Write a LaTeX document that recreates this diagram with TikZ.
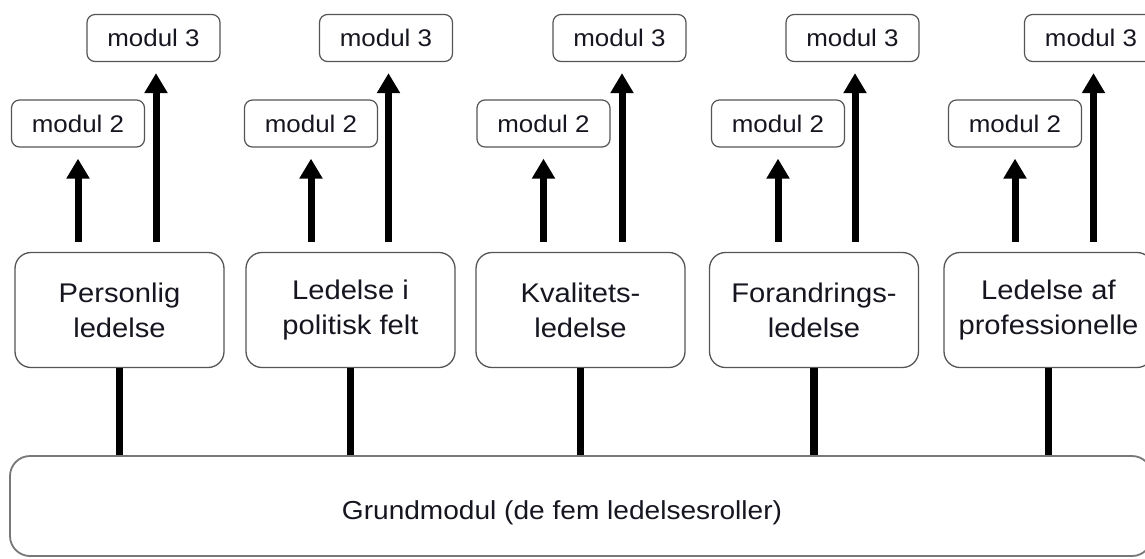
\documentclass[tikz,border=0pt]{standalone}
\usepackage{fontspec}
\setmainfont{Liberation Sans}[FakeStretch=1.08]
\usetikzlibrary{arrows.meta}
\definecolor{ink}{RGB}{22,22,32}
\definecolor{edge}{RGB}{85,85,85}
\definecolor{baseedge}{RGB}{120,120,120}
\begin{document}
\begin{tikzpicture}[x=1pt,y=-1pt,
  role/.style={draw=edge, line width=1.3pt, rounded corners=16pt, fill=white,
    minimum width=209pt, minimum height=115pt, inner sep=0pt, align=center,
    font=\fontsize{27}{35}\selectfont, text=ink},
  modbox/.style={draw=edge, line width=1.2pt, rounded corners=8pt, fill=white,
    minimum width=133pt, minimum height=47pt, inner sep=0pt,
    font=\fontsize{24}{28}\selectfont, text=ink},
  basebox/.style={draw=baseedge, line width=1.8pt, rounded corners=20pt,
    minimum width=1142pt, minimum height=100pt, inner sep=0pt},
  uparrow/.style={line width=7pt, -{Triangle[width=22pt,length=20pt]}},
  stem/.style={line width=7.5pt},
]
\useasboundingbox (0,0) rectangle (1145,558);
\fill[white] (0,0) rectangle (1145,558);
\clip (0,0) rectangle (1145,558);

% foundation module across the full width
\node[basebox] (g) at (581,506) {};
\node[font=\fontsize{26}{30}\selectfont, text=ink, anchor=base] (gtext) at (562,519)
  {Grundmodul (de fem ledelsesroller)};

% five leadership roles, each with its follow-up modules
\foreach \i/\rx/\mtwo/\mthree/\txt in {
    1/119.5/78/153.5/{Personlig\\ledelse},
    2/350.5/311/386/{Ledelse i\\politisk felt},
    3/580.5/543.5/619.5/{Kvalitets-\\ledelse},
    4/814/778/852.5/{Forandrings-\\ledelse},
    5/1048.5/1015/1091/{Ledelse af\\professionelle}} {
  \node[role] (r\i) at (\rx,310) {\txt};
  \node[modbox] (ma\i) at (\mtwo,123.5) {modul 2};
  \node[modbox] (mb\i) at (\mthree,38) {modul 3};
  \coordinate (tb\i) at ([xshift=2.5pt]mb\i.south);
  \draw[uparrow, shorten <=10pt, shorten >=11pt] (r\i.north -| ma\i.south) -- (ma\i.south);
  \draw[uparrow, shorten <=10pt, shorten >=11pt] (tb\i |- r\i.north) -- (tb\i);
  \draw[stem] (r\i.south) -- (r\i.south |- g.north);
}
\end{tikzpicture}
\end{document}
